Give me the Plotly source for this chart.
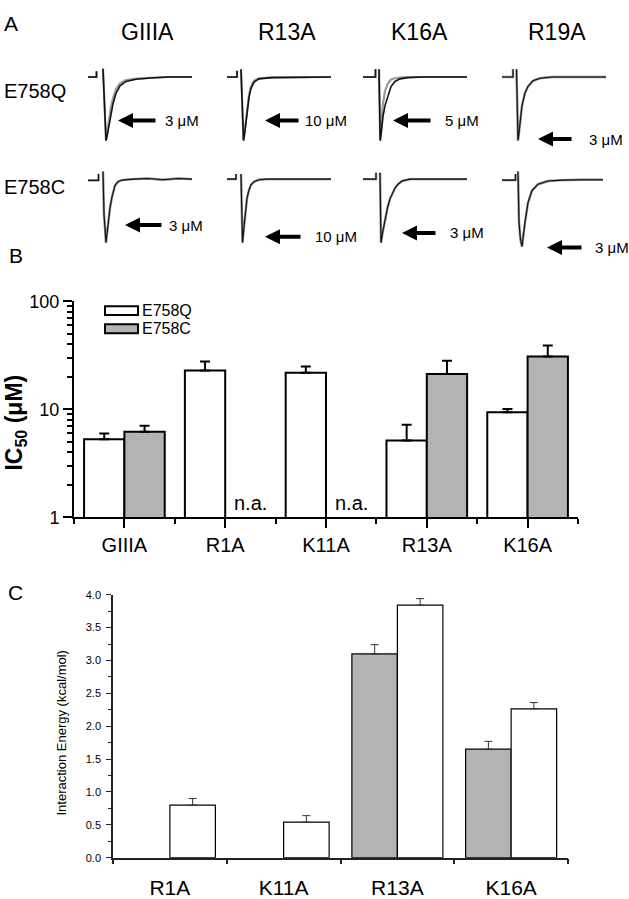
import plotly.graph_objects as go

W, H = 629, 899
FONT = "Liberation Sans, Arial, sans-serif"

# ---------------- Panel A : current traces (time in ms-like units, normalized current) -------------
toxins_a = ["GIIIA", "R13A", "K16A", "R19A"]
channels_a = ["E758Q", "E758C"]
conc_e758q = ["3 μM", "10 μM", "5 μM", "3 μM"]
conc_e758c = ["3 μM", "10 μM", "3 μM", "3 μM"]

# E758Q row
t_giiia_q = [0, 8.5, 8.5, None, 15, 16.5, 18, 19.5, 21, 23, 25, 28, 32, 38, 48, 62, 80, 104]
i_giiia_q_ctrl = [0, 0, 0.09, None, 0.13, -0.55, -1.0, -0.9, -0.75, -0.58, -0.42, -0.26, -0.14, -0.07, -0.035, -0.015, 0, 0]
i_giiia_q_tox = [0, 0, 0.09, None, 0.13, -0.55, -1.0, -0.85, -0.65, -0.47, -0.33, -0.19, -0.1, -0.05, -0.025, -0.01, 0, 0]

t_r13a_q = [0, 10, 10, None, 14, 15, 16.5, 18, 20, 22, 24, 27, 32, 45, 104]
i_r13a_q_ctrl = [0, 0, 0.1, None, 0.12, -0.5, -1.0, -0.85, -0.55, -0.32, -0.18, -0.08, -0.03, -0.01, 0]
i_r13a_q_tox = [0, 0, 0.1, None, 0.12, -0.5, -1.0, -0.8, -0.5, -0.28, -0.15, -0.06, -0.02, -0.005, 0]

t_k16a_q = [0, 12.5, 12.5, None, 16, 16.5, 17.2, 18.5, 20, 22, 25, 28, 32, 37, 45, 60, 104]
i_k16a_q_ctrl = [0, 0, 0.12, None, 0.12, -0.5, -1.0, -0.85, -0.62, -0.45, -0.28, -0.15, -0.07, -0.03, -0.01, 0, 0]
i_k16a_q_tox = [0, 0, 0.12, None, 0.12, -0.5, -1.0, -0.7, -0.42, -0.22, -0.1, -0.04, -0.02, -0.01, 0, 0, 0]

t_r19a_q = [0, 11, 11, None, 14.5, 15.2, 16, 17, 18.5, 20, 23, 26, 31, 38, 50, 104]
i_r19a_q = [0, 0, 0.12, None, 0.12, -0.5, -1.0, -0.88, -0.62, -0.45, -0.25, -0.15, -0.06, -0.02, 0, 0]

# E758C row
t_giiia_c = [0, 10.5, 10.5, None, 15, 16, 18, 20, 22, 24, 27, 30, 34, 45, 60, 75, 90, 104]
i_giiia_c = [-0.02, -0.02, 0.08, None, 0.12, -0.55, -1.0, -0.68, -0.45, -0.28, -0.1, -0.04, -0.015, 0, 0.01, -0.01, 0.01, 0]

t_r13a_c = [0, 9, 9, None, 14, 14.8, 15.5, 17, 18.5, 20, 22, 24, 27, 32, 40, 104]
i_r13a_c = [0, 0, 0.08, None, 0.08, -0.55, -1.0, -0.75, -0.5, -0.3, -0.17, -0.09, -0.04, -0.01, 0, 0]

t_k16a_c = [0, 13, 13, None, 17, 17.5, 18, 19.5, 22, 24.5, 27, 29.5, 32, 35, 39, 47, 104]
i_k16a_c = [0, 0, 0.1, None, 0.1, -0.5, -1.0, -0.85, -0.62, -0.45, -0.31, -0.21, -0.14, -0.08, -0.03, 0, 0]

t_r19a_c = [0, 13.5, 13.5, None, 16, 17, 18.5, 20, 23, 26, 30, 36, 46, 60, 80, 101]
i_r19a_c = [-0.015, -0.015, 0.08, None, 0.12, -0.68, -0.95, -1.06, -0.68, -0.37, -0.18, -0.08, -0.03, -0.015, -0.01, -0.01]

# ---------------- Panel B : IC50 (log) ----------------
cats_b = ["GIIIA", "R1A", "K11A", "R13A", "K16A"]
ic50_e758q = [5.3, 22.9, 21.9, 5.16, 9.4]
ic50_e758q_err = [0.7, 4.9, 3.1, 2.05, 0.7]
ic50_e758c = [6.2, None, None, 21.3, 30.9]
ic50_e758c_err = [0.85, 0, 0, 6.9, 8.2]
na_cats_b = ["R1A", "K11A"]
ticks_b = [1, 10, 100]
minor_ticks_b = [2, 3, 4, 5, 6, 7, 8, 9, 20, 30, 40, 50, 60, 70, 80, 90]

# ---------------- Panel C : interaction energy ----------------
cats_c = ["R1A", "K11A", "R13A", "K16A"]
energy_gray = [None, None, 3.1, 1.65]
energy_gray_err = [0, 0, 0.14, 0.12]
energy_white = [0.8, 0.54, 3.84, 2.265]
energy_white_err = [0.1, 0.1, 0.1, 0.095]

GRAY = "#b3b3b3"


def px(x):
    return x / W


def py(y):
    return 1 - y / H


fig = go.Figure()
layout_axes = {}

# ---- Panel A mini axes ----
col_x0 = [88, 227, 363, 502]
row_top = [55.5, 160]
row_h = 91
panel_data = [
    (0, 0, t_giiia_q, [i_giiia_q_tox, i_giiia_q_ctrl]),
    (1, 0, t_r13a_q, [i_r13a_q_tox, i_r13a_q_ctrl]),
    (2, 0, t_k16a_q, [i_k16a_q_tox, i_k16a_q_ctrl]),
    (3, 0, t_r19a_q, [i_r19a_q]),
    (0, 1, t_giiia_c, [i_giiia_c]),
    (1, 1, t_r13a_c, [i_r13a_c]),
    (2, 1, t_k16a_c, [i_k16a_c]),
    (3, 1, t_r19a_c, [i_r19a_c]),
]
for k, (c, r, t, curves) in enumerate(panel_data):
    n = k + 3
    xa, ya = f"x{n}", f"y{n}"
    layout_axes[f"xaxis{n}"] = dict(domain=[px(col_x0[c]), px(col_x0[c] + 105)], range=[0, 105],
                                    visible=False, anchor=ya, fixedrange=True)
    layout_axes[f"yaxis{n}"] = dict(domain=[py(row_top[r] + row_h), py(row_top[r])], range=[-1.2, 0.2],
                                    visible=False, anchor=xa, fixedrange=True)
    if len(curves) == 2:
        fig.add_trace(go.Scatter(x=t, y=curves[0], mode="lines", xaxis=xa, yaxis=ya,
                                 line=dict(color="#9a9a9a", width=2.2), connectgaps=False, hoverinfo="skip"))
        fig.add_trace(go.Scatter(x=t, y=curves[1], mode="lines", xaxis=xa, yaxis=ya,
                                 line=dict(color="#111111", width=1.6), connectgaps=False, hoverinfo="skip"))
    else:
        fig.add_trace(go.Scatter(x=t, y=curves[0], mode="lines", xaxis=xa, yaxis=ya,
                                 line=dict(color="#888888", width=2.4), connectgaps=False, hoverinfo="skip"))
        fig.add_trace(go.Scatter(x=t, y=curves[0], mode="lines", xaxis=xa, yaxis=ya,
                                 line=dict(color="#111111", width=1.1), connectgaps=False, hoverinfo="skip"))

# ---- Panel B bars ----
xb = list(range(len(cats_b)))
fig.add_trace(go.Bar(x=xb, y=ic50_e758q, xaxis="x", yaxis="y", offsetgroup="bq",
                     marker=dict(color="white", line=dict(color="black", width=2)),
                     error_y=dict(type="data", symmetric=False, array=ic50_e758q_err,
                                  arrayminus=[0] * len(xb), thickness=2, width=5, color="black")))
fig.add_trace(go.Bar(x=xb, y=ic50_e758c, xaxis="x", yaxis="y", offsetgroup="bc",
                     marker=dict(color=GRAY, line=dict(color="black", width=2)),
                     error_y=dict(type="data", symmetric=False, array=ic50_e758c_err,
                                  arrayminus=[0] * len(xb), thickness=2, width=5, color="black")))

# ---- Panel C bars ----
xc = list(range(len(cats_c)))
fig.add_trace(go.Bar(x=xc, y=energy_gray, xaxis="x2", yaxis="y2", offsetgroup="cg",
                     marker=dict(color=GRAY, line=dict(color="black", width=1.2)),
                     error_y=dict(type="data", symmetric=False, array=energy_gray_err,
                                  arrayminus=[0] * len(xc), thickness=1, width=4, color="#333333")))
fig.add_trace(go.Bar(x=xc, y=energy_white, xaxis="x2", yaxis="y2", offsetgroup="cw",
                     marker=dict(color="white", line=dict(color="black", width=1.2)),
                     error_y=dict(type="data", symmetric=False, array=energy_white_err,
                                  arrayminus=[0] * len(xc), thickness=1, width=4, color="#333333")))

annotations = []
shapes = []


def text(x, y, s, size, xanchor="left", yanchor="middle", **kw):
    annotations.append(dict(x=px(x), y=py(y), xref="paper", yref="paper", text=s, showarrow=False,
                            xanchor=xanchor, yanchor=yanchor,
                            font=dict(family=FONT, size=size, color="black"), **kw))


# Panel letters
text(2, 14, "A", 21)
text(7, 251, "B", 21)
text(6, 596, "C", 21)

# Panel A headers
for name, cx in zip(toxins_a, [147, 287, 419, 557]):
    text(cx, 23, name, 23, xanchor="center")
for name, yy in zip(channels_a, [83, 181]):
    text(2, yy, name, 20)

# Panel A arrows and concentrations
arrows_q = [(118, 157, 113, 163), (265, 300, 113, 303), (393, 432, 113, 443), (538, 573, 132, 587)]
arrows_c = [(125, 163, 220, 167), (265, 302, 232, 313), (402, 437, 228, 448), (547, 583, 243, 593)]
for arrows, concs in [(arrows_q, conc_e758q), (arrows_c, conc_e758c)]:
    for (hx, tx, yy, txt_x), s in zip(arrows, concs):
        annotations.append(dict(x=px(hx), y=py(yy), xref="paper", yref="paper", text="",
                                showarrow=True, ax=tx - hx, ay=0, arrowhead=2, arrowsize=0.75,
                                arrowwidth=4, arrowcolor="black", standoff=0))
        text(txt_x, yy, s, 15)

# Panel B y title
annotations.append(dict(x=px(16), y=py(422), xref="paper", yref="paper",
                        text="<b>IC<sub>50</sub> (μM)</b>", showarrow=False, textangle=-90,
                        xanchor="center", yanchor="middle", font=dict(family=FONT, size=23, color="black")))
# Panel B legend
for (yy, fill, name) in [(307.5, "white", "E758Q"), (326, GRAY, "E758C")]:
    shapes.append(dict(type="rect", xref="paper", yref="paper", x0=px(105), x1=px(138),
                       y0=py(yy - 4.5), y1=py(yy + 4.5), fillcolor=fill, line=dict(color="black", width=2)))
    text(140, yy, name, 16)
# n.a. labels (placed next to empty E758C slots)
for cat in na_cats_b:
    annotations.append(dict(x=cats_b.index(cat) + 0.25, y=0.13, xref="x", yref="y", text="n.a.",
                            showarrow=False, xanchor="center", yanchor="middle",
                            font=dict(family=FONT, size=20, color="black")))

# Panel C y title
annotations.append(dict(x=px(62), y=py(740), xref="paper", yref="paper",
                        text="Interaction Energy (kcal/mol)", showarrow=False, textangle=-90,
                        xanchor="center", yanchor="middle", font=dict(family=FONT, size=13, color="black")))

fig.update_layout(
    width=W, height=H, margin=dict(l=0, r=0, t=0, b=0),
    paper_bgcolor="white", plot_bgcolor="white", showlegend=False,
    barmode="group", bargap=0.2, bargroupgap=0,
    font=dict(family=FONT, color="black"),
    xaxis=dict(domain=[px(74), px(578)], anchor="y", range=[-0.5, len(cats_b) - 0.5],
               tickvals=xb, ticktext=cats_b, ticks="outside", ticklen=9, tickwidth=2, tickcolor="black",
               showline=True, linewidth=2, linecolor="black", showgrid=False, zeroline=False,
               tickfont=dict(size=20, family=FONT),
               minor=dict(ticks="outside", tickvals=[i - 0.5 for i in range(len(cats_b) + 1)],
                          ticklen=5, tickwidth=2, tickcolor="black", showgrid=False)),
    yaxis=dict(domain=[py(519), py(298)], anchor="x", type="log", range=[0, 2],
               tickvals=ticks_b, ticktext=[str(v) for v in ticks_b], ticks="outside", ticklen=9,
               tickwidth=2, tickcolor="black", showline=True, linewidth=2, linecolor="black",
               showgrid=False, zeroline=False, tickfont=dict(size=18, family=FONT),
               minor=dict(ticks="outside", tickvals=minor_ticks_b, ticklen=5, tickwidth=1.5,
                          tickcolor="black", showgrid=False)),
    xaxis2=dict(domain=[px(113), px(568)], anchor="y2", range=[-0.5, len(cats_c) - 0.5],
                tickvals=xc, ticktext=cats_c, ticks="outside", ticklen=10, tickcolor="rgba(0,0,0,0)",
                showline=True, linewidth=1.5, linecolor="#222", showgrid=False, zeroline=False,
                tickfont=dict(size=21, family=FONT),
                minor=dict(ticks="outside", tickvals=[i - 0.5 for i in range(len(cats_c) + 1)],
                           ticklen=5, tickwidth=1.5, tickcolor="#222", showgrid=False)),
    yaxis2=dict(domain=[py(867), py(598)], anchor="x2", range=[0, 4], dtick=0.5, tick0=0,
                tickformat=".1f", ticks="outside", ticklen=5, tickwidth=1.2, tickcolor="#222",
                ticklabelstandoff=3,
                showline=True, linewidth=1.5, linecolor="#222", showgrid=False, zeroline=False,
                tickfont=dict(size=11, family=FONT),
                minor=dict(ticks="outside", dtick=0.25, tick0=0, ticklen=3, tickwidth=1,
                           tickcolor="#222", showgrid=False)),
    annotations=annotations, shapes=shapes,
    **layout_axes,
)

fig.write_html("out.html", config={"displayModeBar": False},
               post_script="document.body.style.margin='0';document.body.style.overflow='hidden';")
